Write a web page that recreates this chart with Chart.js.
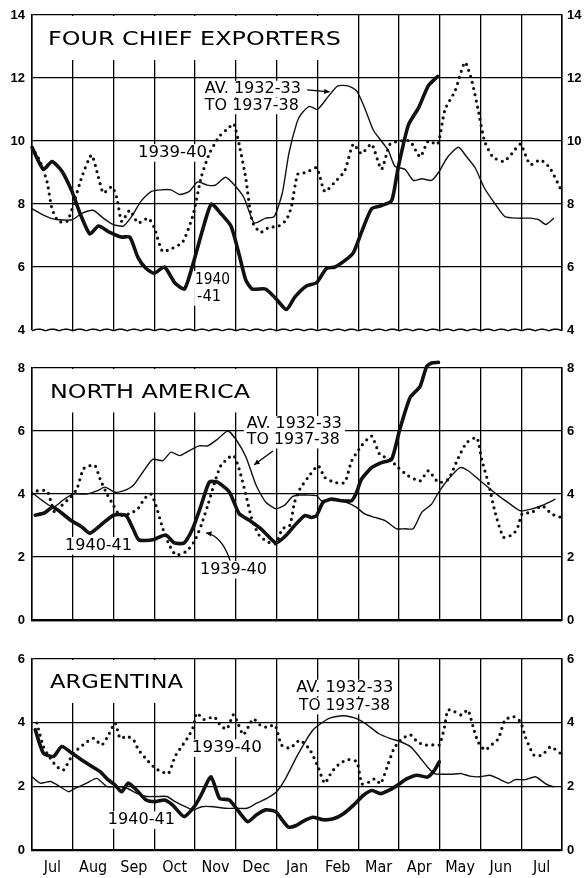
<!DOCTYPE html>
<html>
<head>
<meta charset="utf-8">
<script src="https://cdn.jsdelivr.net/npm/chart.js@4.4.1/dist/chart.umd.min.js"></script>
<style>
  body { margin: 0; background: #fff; width: 586px; height: 878px; position: relative; overflow: hidden; }
  canvas { position: absolute; left: 0; }
</style>
</head>
<body>
<canvas id="exporters" width="586" height="345" style="top:0"></canvas>
<canvas id="northAmerica" width="586" height="290" style="top:345px"></canvas>
<canvas id="argentina" width="586" height="243" style="top:635px"></canvas>
<script>
// x = months since 1 July, y = value
const MONTHS = ['Jul', 'Aug', 'Sep', 'Oct', 'Nov', 'Dec', 'Jan', 'Feb', 'Mar', 'Apr', 'May', 'Jun', 'Jul'];

// Four chief exporters
const EXP_AVG = [[0,7.85],[0.2,7.7],[0.45,7.55],[0.65,7.5],[0.98,7.5],[1.22,7.7],[1.5,7.8],[1.75,7.55],[1.99,7.35],[2.24,7.3],[2.44,7.6],[2.68,8.1],[2.93,8.4],[3.17,8.45],[3.41,8.45],[3.62,8.3],[3.86,8.4],[4.06,8.7],[4.3,8.6],[4.5,8.6],[4.75,8.85],[5.0,8.55],[5.2,8.2],[5.45,7.4],[5.73,7.55],[5.94,7.6],[6.14,8.35],[6.3,9.6],[6.5,10.6],[6.6,10.85],[6.81,11.1],[7.0,11.0],[7.26,11.4],[7.5,11.75],[7.75,11.75],[7.96,11.6],[8.16,11.05],[8.37,10.35],[8.57,10.0],[8.74,9.7],[8.9,9.2],[9.15,9.1],[9.35,8.75],[9.56,8.8],[9.8,8.75],[9.97,9.0],[10.2,9.5],[10.46,9.8],[10.66,9.5],[10.87,9.15],[11.1,8.5],[11.36,8.0],[11.6,7.6],[11.93,7.55],[12.2,7.55],[12.43,7.5],[12.6,7.35],[12.8,7.55]];
const EXP_1939 = [[0,9.8],[0.2,9.35],[0.37,8.7],[0.49,7.85],[0.65,7.45],[0.86,7.45],[1.02,8.0],[1.22,8.85],[1.46,9.55],[1.63,8.85],[1.75,8.35],[1.96,8.55],[2.08,8.2],[2.2,7.45],[2.4,7.8],[2.6,7.4],[2.85,7.55],[3.0,7.25],[3.2,6.5],[3.45,6.6],[3.7,6.8],[3.95,7.65],[4.15,8.85],[4.35,9.6],[4.6,10.15],[4.85,10.45],[4.95,10.55],[5.08,9.9],[5.24,8.85],[5.4,7.45],[5.6,7.1],[5.8,7.25],[6.05,7.3],[6.24,7.5],[6.36,7.9],[6.52,8.95],[6.73,9.0],[6.98,9.15],[7.18,8.4],[7.43,8.7],[7.67,9.05],[7.88,9.9],[8.08,9.6],[8.33,9.9],[8.57,9.1],[8.78,9.9],[9.02,10.0],[9.27,10.0],[9.52,9.5],[9.72,10.0],[9.95,9.9],[10.13,11.0],[10.38,11.6],[10.62,12.5],[10.79,11.9],[10.95,10.95],[11.1,10.0],[11.3,9.5],[11.57,9.35],[11.77,9.6],[11.98,9.9],[12.22,9.25],[12.47,9.4],[12.7,9.15],[12.96,8.5]];
const EXP_1940 = [[0,9.8],[0.28,9.1],[0.49,9.35],[0.73,9.05],[0.98,8.4],[1.18,7.7],[1.42,7.05],[1.63,7.3],[1.91,7.1],[2.19,6.95],[2.4,6.95],[2.6,6.3],[2.8,5.95],[3.0,5.8],[3.25,6.0],[3.5,5.5],[3.74,5.3],[3.95,6.1],[4.2,7.25],[4.4,8.0],[4.63,7.7],[4.88,7.3],[5.08,6.4],[5.24,5.6],[5.4,5.3],[5.73,5.3],[5.98,5.0],[6.24,4.65],[6.45,5.05],[6.73,5.4],[6.98,5.5],[7.22,5.95],[7.43,6.0],[7.67,6.2],[7.88,6.45],[8.08,7.1],[8.33,7.85],[8.57,7.95],[8.82,8.1],[8.98,9.15],[9.23,10.5],[9.48,11.05],[9.72,11.75],[9.95,12.05]];

// North America
const NA_AVG = [[0,4.05],[0.25,3.8],[0.52,3.58],[0.75,3.8],[1.0,4.0],[1.34,4.0],[1.59,4.1],[1.79,4.22],[2.04,4.06],[2.24,4.1],[2.48,4.27],[2.72,4.7],[2.96,5.1],[3.21,5.06],[3.41,5.33],[3.62,5.22],[3.86,5.38],[4.1,5.53],[4.31,5.53],[4.55,5.74],[4.8,6.0],[5.0,5.74],[5.25,5.17],[5.5,4.27],[5.73,3.75],[5.98,3.54],[6.2,3.65],[6.38,3.91],[6.54,3.97],[6.73,3.97],[6.98,3.95],[7.1,3.79],[7.34,3.84],[7.71,3.74],[7.96,3.58],[8.16,3.37],[8.41,3.26],[8.66,3.16],[8.94,2.9],[9.15,2.9],[9.35,2.9],[9.56,3.42],[9.8,3.68],[9.97,4.05],[10.21,4.47],[10.5,4.84],[10.7,4.74],[10.95,4.47],[11.2,4.2],[11.44,3.95],[11.73,3.68],[11.98,3.47],[12.26,3.53],[12.5,3.63],[12.84,3.84]];
const NA_1939 = [[0,4.0],[0.12,4.1],[0.37,4.1],[0.49,3.64],[0.57,3.4],[0.73,3.64],[0.94,3.9],[1.1,4.16],[1.26,4.8],[1.42,4.9],[1.55,4.9],[1.67,4.48],[1.84,4.0],[2.0,3.64],[2.15,3.33],[2.4,3.38],[2.6,3.54],[2.76,3.86],[2.92,4.0],[3.04,3.64],[3.21,2.9],[3.37,2.38],[3.53,2.07],[3.78,2.18],[3.98,2.49],[4.15,3.01],[4.31,3.64],[4.47,4.33],[4.63,4.9],[4.84,5.17],[4.95,5.22],[5.08,4.8],[5.25,3.96],[5.4,3.17],[5.57,2.7],[5.77,2.49],[5.98,2.43],[6.14,2.9],[6.32,3.0],[6.44,3.74],[6.57,4.16],[6.77,4.53],[7.02,4.9],[7.18,4.53],[7.43,4.37],[7.67,4.37],[7.84,5.05],[8.08,5.53],[8.33,5.84],[8.53,5.26],[8.78,5.1],[8.98,4.84],[9.23,4.58],[9.52,4.42],[9.72,4.74],[9.97,4.37],[10.21,4.47],[10.46,5.16],[10.66,5.63],[10.91,5.79],[11.03,5.1],[11.2,4.32],[11.36,3.42],[11.57,2.63],[11.81,2.74],[11.93,3.0],[12.02,3.37],[12.26,3.42],[12.51,3.63],[12.75,3.37],[12.98,3.26]];
const NA_1940 = [[0.08,3.33],[0.3,3.4],[0.52,3.58],[0.95,3.17],[1.2,2.98],[1.42,2.76],[1.67,3.0],[2.0,3.33],[2.3,3.33],[2.48,2.9],[2.62,2.55],[2.96,2.55],[3.28,2.7],[3.49,2.45],[3.73,2.45],[3.94,2.9],[4.15,3.65],[4.35,4.38],[4.55,4.38],[4.84,4.07],[5.08,3.38],[5.33,3.17],[5.65,2.86],[5.98,2.45],[6.2,2.65],[6.44,3.0],[6.69,3.32],[6.85,3.26],[6.98,3.32],[7.14,3.74],[7.34,3.84],[7.59,3.79],[7.84,3.79],[7.96,4.05],[8.08,4.47],[8.33,4.84],[8.57,5.0],[8.82,5.1],[9.02,6.05],[9.27,7.05],[9.52,7.42],[9.68,8.05],[9.8,8.16],[9.97,8.18]];

// Argentina
const AR_AVG = [[0,2.3],[0.2,2.1],[0.45,2.15],[0.69,1.99],[0.9,1.83],[1.06,1.94],[1.34,2.1],[1.59,2.25],[1.84,1.99],[2.08,1.99],[2.33,1.94],[2.57,1.78],[2.82,1.68],[3.06,1.68],[3.31,1.68],[3.51,1.52],[3.76,1.36],[3.96,1.26],[4.16,1.36],[4.45,1.36],[4.73,1.31],[5.02,1.31],[5.27,1.31],[5.51,1.47],[5.76,1.62],[6.0,1.83],[6.2,2.2],[6.5,2.95],[6.7,3.4],[6.89,3.77],[7.06,3.95],[7.3,4.14],[7.55,4.21],[7.72,4.21],[7.93,4.14],[8.17,3.98],[8.5,3.66],[8.79,3.5],[9.04,3.4],[9.29,3.24],[9.5,2.93],[9.7,2.61],[9.87,2.4],[10.03,2.38],[10.28,2.38],[10.53,2.4],[10.74,2.32],[10.98,2.3],[11.23,2.35],[11.44,2.24],[11.69,2.1],[11.85,2.21],[12.1,2.21],[12.35,2.3],[12.6,2.08],[12.8,1.98]];
const AR_1939 = [[0.12,3.99],[0.28,3.25],[0.45,2.88],[0.61,2.62],[0.77,2.51],[1.02,3.04],[1.31,3.36],[1.51,3.51],[1.71,3.3],[1.88,3.62],[2.04,3.99],[2.16,3.51],[2.33,3.57],[2.49,3.46],[2.61,3.15],[2.82,2.83],[3.02,2.57],[3.18,2.46],[3.35,2.41],[3.51,2.94],[3.67,3.25],[3.84,3.57],[3.96,3.88],[4.04,4.3],[4.22,4.1],[4.47,4.18],[4.63,3.9],[4.78,3.8],[4.94,4.25],[5.06,3.95],[5.18,3.62],[5.31,3.88],[5.43,4.12],[5.62,3.9],[5.76,3.86],[5.96,3.92],[6.12,3.3],[6.33,3.2],[6.57,3.45],[6.82,3.14],[7.02,2.6],[7.18,2.1],[7.35,2.45],[7.55,2.72],[7.76,2.84],[7.97,2.77],[8.09,2.08],[8.26,2.13],[8.42,2.24],[8.55,2.08],[8.71,2.61],[8.88,3.19],[9.08,3.5],[9.29,3.61],[9.45,3.4],[9.62,3.3],[9.83,3.3],[9.99,3.3],[10.12,3.87],[10.2,4.4],[10.36,4.35],[10.53,4.24],[10.69,4.4],[10.82,3.87],[10.94,3.4],[11.11,3.14],[11.27,3.3],[11.44,3.5],[11.6,4.08],[11.81,4.19],[11.98,4.03],[12.1,3.56],[12.31,2.98],[12.51,2.98],[12.72,3.24],[12.97,3.03]];
const AR_1940 = [[0.08,3.78],[0.28,3.04],[0.53,2.94],[0.73,3.25],[0.98,3.04],[1.22,2.83],[1.47,2.62],[1.67,2.46],[1.87,2.2],[2.04,2.04],[2.2,1.83],[2.36,2.1],[2.56,1.89],[2.8,1.57],[3.04,1.52],[3.25,1.57],[3.45,1.41],[3.73,1.05],[3.98,1.36],[4.15,1.73],[4.39,2.3],[4.6,1.62],[4.84,1.57],[5.04,1.26],[5.29,0.89],[5.5,1.1],[5.73,1.26],[5.98,1.2],[6.14,0.94],[6.29,0.72],[6.48,0.77],[6.69,0.93],[6.89,1.03],[7.14,0.95],[7.39,0.98],[7.64,1.14],[7.88,1.4],[8.13,1.72],[8.34,1.87],[8.55,1.77],[8.75,1.87],[8.96,2.03],[9.2,2.24],[9.45,2.35],[9.7,2.29],[9.87,2.5],[9.99,2.77]];

const LABEL_FONT = "'DejaVu Sans', sans-serif";
const TICK_FONT = { family: "'Liberation Sans', Arial, sans-serif", size: 13, weight: 'bold' };

// draw text squeezed/stretched to a given pixel width
function fitText(ctx, text, x, y, size, width) {
  ctx.save();
  ctx.font = size + 'px ' + LABEL_FONT;
  ctx.textBaseline = 'middle';
  ctx.textAlign = 'left';
  const w = ctx.measureText(text).width;
  ctx.translate(x, y);
  ctx.scale(width / w, 1);
  ctx.fillText(text, 0, 0);
  ctx.restore();
}

function arrowHead(ctx, fx, fy, tx, ty) {
  const ang = Math.atan2(ty - fy, tx - fx);
  const len = 6;
  ctx.beginPath();
  ctx.moveTo(tx, ty);
  ctx.lineTo(tx - len * Math.cos(ang - 0.45), ty - len * Math.sin(ang - 0.45));
  ctx.lineTo(tx - len * Math.cos(ang + 0.45), ty - len * Math.sin(ang + 0.45));
  ctx.closePath();
  ctx.fill();
}

// labels, white boxes behind them, arrows and the broken bottom edge
const decorPlugin = {
  id: 'decor',
  beforeDatasetsDraw(chart, args, opts) {
    const { ctx, chartArea: a, scales: { x, y } } = chart;
    ctx.save();
    ctx.fillStyle = '#fff';
    if (opts.titleBox) {
      const r = x.getPixelForValue(opts.titleBox[0]);
      const b = y.getPixelForValue(opts.titleBox[1]);
      ctx.fillRect(a.left + 1, a.top + 1, r - a.left - 1, b - a.top - 1);
    }
    (opts.texts || []).forEach(t => {
      const px = x.getPixelForValue(t.x);
      const py = y.getPixelForValue(t.y);
      ctx.fillStyle = '#fff';
      ctx.fillRect(px - 3, py - t.size * 0.55, t.w + 6, t.size * 1.1);
      ctx.fillStyle = '#000';
      fitText(ctx, t.text, px, py, t.size, t.w);
    });
    ctx.restore();
  },
  afterDraw(chart, args, opts) {
    const { ctx, chartArea: a, scales: { x, y } } = chart;
    ctx.save();
    ctx.strokeStyle = '#000';
    ctx.fillStyle = '#000';
    ctx.lineWidth = 1.3;
    (opts.arrows || []).forEach(ar => {
      const p = ar.pts.map(q => [x.getPixelForValue(q[0]), y.getPixelForValue(q[1])]);
      ctx.beginPath();
      ctx.moveTo(p[0][0], p[0][1]);
      if (p.length === 3) {
        ctx.quadraticCurveTo(p[1][0], p[1][1], p[2][0], p[2][1]);
      } else {
        ctx.lineTo(p[1][0], p[1][1]);
      }
      ctx.stroke();
      const n = p.length;
      arrowHead(ctx, p[n - 2][0], p[n - 2][1], p[n - 1][0], p[n - 1][1]);
    });
    if (opts.wavy) {
      // scalloped line marking the broken scale
      const period = 13.6;
      ctx.lineWidth = 1.4;
      ctx.beginPath();
      for (let px = a.left; px <= a.right; px += 1) {
        const py = a.bottom - 1.6 * Math.abs(Math.sin(Math.PI * (px - a.left) / period)) + 0.8;
        if (px === a.left) ctx.moveTo(px, py); else ctx.lineTo(px, py);
      }
      ctx.stroke();
    }
    ctx.restore();
  }
};

function makeDatasets(avg, prev, cur) {
  const pts = arr => arr.map(p => ({ x: p[0], y: p[1] }));
  return [
    {
      label: 'Av. 1932-33 to 1937-38', data: pts(avg),
      borderColor: '#111', borderWidth: 1.4, tension: 0.2, pointRadius: 0
    },
    {
      label: '1939-40', data: pts(prev),
      borderColor: '#111', borderWidth: 3.2, borderDash: [0, 6.3], borderCapStyle: 'round',
      tension: 0.2, pointRadius: 0
    },
    {
      label: '1940-41', data: pts(cur),
      borderColor: '#111', borderWidth: 3.6, borderCapStyle: 'round', borderJoinStyle: 'round',
      tension: 0.2, pointRadius: 0, clip: false
    }
  ];
}

function makePanel(id, cfg) {
  const scales = {
    x: {
      type: 'linear', min: 0, max: 13,
      ticks: { stepSize: 1, display: false },
      grid: { color: '#000', lineWidth: 1.3, drawTicks: false },
      border: { display: !cfg.wavy, color: '#000', width: 2.2 },
      afterFit: s => { s.height = 0; }
    },
    y: {
      min: cfg.min, max: cfg.max,
      ticks: { stepSize: 2, color: '#000', font: TICK_FONT, padding: 7 },
      grid: {
        color: c => (cfg.wavy && c.tick && c.tick.value === cfg.min) ? 'rgba(0,0,0,0)' : '#000',
        lineWidth: 1.3, drawTicks: false
      },
      border: { color: '#000', width: 1.5 },
      afterFit: s => { s.width = 32; }
    },
    y2: {
      position: 'right', min: cfg.min, max: cfg.max,
      ticks: { stepSize: 2, color: '#000', font: TICK_FONT, padding: 5 },
      grid: { display: false, drawTicks: false },
      border: { color: '#000', width: 1.5 },
      afterFit: s => { s.width = 24; }
    }
  };
  if (cfg.months) {
    scales.xm = {
      type: 'linear', position: 'bottom', min: 0, max: 13,
      afterBuildTicks: s => { s.ticks = MONTHS.map((m, i) => ({ value: i + 0.5 })); },
      ticks: {
        callback: (v, i) => MONTHS[i], autoSkip: false, maxRotation: 0, color: '#000', padding: 8,
        font: { family: "'DejaVu Sans Condensed', 'Liberation Sans Narrow', 'DejaVu Sans', sans-serif", size: 16 }
      },
      grid: { display: false, drawTicks: false },
      border: { display: false },
      afterFit: s => { s.height = 28; }
    };
  }
  return new Chart(document.getElementById(id), {
    type: 'line',
    data: { datasets: makeDatasets(cfg.avg, cfg.prev, cfg.cur) },
    options: {
      responsive: false,
      animation: false,
      devicePixelRatio: 1,
      layout: { padding: { top: cfg.padTop, bottom: cfg.padBottom, left: 0, right: 0 } },
      plugins: {
        legend: { display: false },
        tooltip: { enabled: false },
        decor: { titleBox: cfg.titleBox, texts: cfg.texts, arrows: cfg.arrows, wavy: cfg.wavy }
      },
      scales: scales
    },
    plugins: [decorPlugin]
  });
}

makePanel('exporters', {
  min: 4, max: 14, padTop: 15, padBottom: 15, wavy: true,
  avg: EXP_AVG, prev: EXP_1939, cur: EXP_1940,
  titleBox: [7.7, 12.57],
  texts: [
    { text: 'FOUR CHIEF EXPORTERS', x: 0.39, y: 13.2, size: 19, w: 293 },
    { text: 'AV. 1932-33', x: 4.24, y: 11.65, size: 15, w: 96 },
    { text: 'TO 1937-38', x: 4.24, y: 11.11, size: 15, w: 94 },
    { text: '1939-40', x: 2.6, y: 9.62, size: 16, w: 69 },
    { text: '1940', x: 4.0, y: 5.59, size: 16, w: 35 },
    { text: '-41', x: 4.05, y: 5.05, size: 16, w: 24 }
  ],
  arrows: [{ pts: [[6.75, 11.62], [7.3, 11.56]] }]
});

makePanel('northAmerica', {
  min: 0, max: 8, padTop: 23, padBottom: 12,
  avg: NA_AVG, prev: NA_1939, cur: NA_1940,
  titleBox: [5.6, 6.59],
  texts: [
    { text: 'NORTH AMERICA', x: 0.44, y: 7.22, size: 19, w: 200 },
    { text: 'AV. 1932-33', x: 5.27, y: 6.21, size: 15, w: 95 },
    { text: 'TO 1937-38', x: 5.27, y: 5.71, size: 15, w: 93 },
    { text: '1940-41', x: 0.81, y: 2.36, size: 16, w: 67 },
    { text: '1939-40', x: 4.12, y: 1.6, size: 16, w: 67 }
  ],
  arrows: [
    { pts: [[5.91, 5.37], [5.45, 4.93]] },
    { pts: [[4.86, 1.89], [4.66, 2.67], [4.27, 2.77]] }
  ]
});

makePanel('argentina', {
  min: 0, max: 6, padTop: 24, padBottom: 0, months: true,
  avg: AR_AVG, prev: AR_1939, cur: AR_1940,
  titleBox: [3.7, 4.62],
  texts: [
    { text: 'ARGENTINA', x: 0.44, y: 5.25, size: 19, w: 133 },
    { text: 'AV. 1932-33', x: 6.48, y: 5.09, size: 15, w: 97 },
    { text: 'TO 1937-38', x: 6.55, y: 4.52, size: 15, w: 91 },
    { text: '1939-40', x: 3.92, y: 3.2, size: 16, w: 70 },
    { text: '1940-41', x: 1.86, y: 0.94, size: 16, w: 67 }
  ]
});
</script>
</body>
</html>
